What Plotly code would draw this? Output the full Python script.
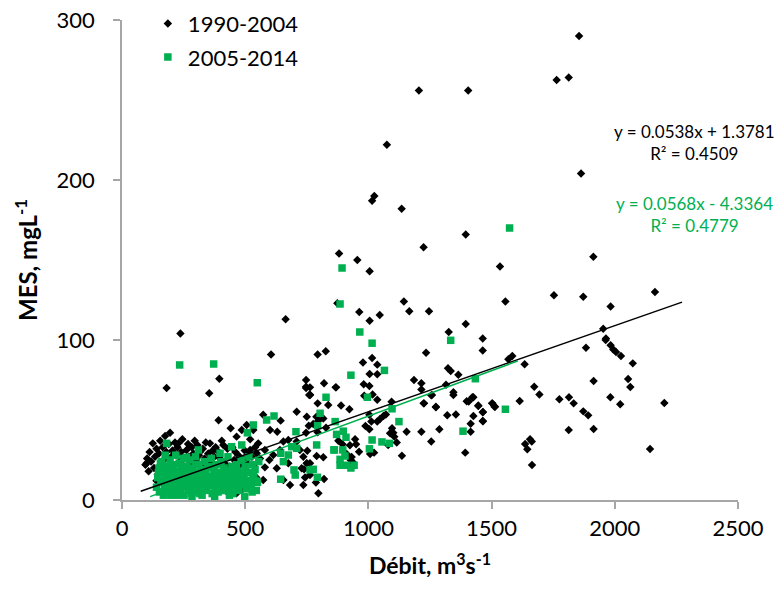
import plotly.graph_objects as go

# ---- data ----
black_x = [1855,1764,1813,1205,1405,1075,1863,1024,1015,1135,1395,1913,1872,2163,1983,1953,1964,
    1224,881,955,1005,1534,1556,1753,874,1144,1166,1246,664,963,1005,1046,1395,1326,1464,1464,1234,794,827,978,1015,1036,1005,1036,747,747,760,820,867,981,1004,983,1017,1036,794,837,889,923,1185,1215,1215,1255,1315,1323,1334,1365,1345,1345,1224,1274,1426,1407,1446,1502,1514,1568,1584,1634,1673,1694,1614,1775,1814,1833,1094,
    1963,1983,1994,2005,2025,2073,1883,2054,2063,1914,1982,2022,2201,1872,1892,1465,1465,1813,1914,1636,1656,1663,1645,1664,2143,
    869,763,763,1226,1274,1320,1355,1258,1399,1422,1446,1503,1512,1464,1464,1415,1426,1415,1393,1255,1215,1288,1155,1136,1115,1105,1101,1088,1096,1080,1071,1061,1004,1012,1036,1047,988,1004,1023,1007,946,950,962,932,928,939,
    797,789,817,758,747,794,776,828,878,895,912,925,790,817,752,750,739,729,763,743,787,820,797,
    181,354,392,573,644,533,601,630,709,750,763,747,237,605,395,
    195,125,229,262,306,317,357,411,441,486,465,506,520,553,520,547,580,598,614,641,655,675,709,722,736,750,628,675,655,682,736,763,580,573,533,509,465,486,422,100,
    95,102,108,112,118,130,134,140,145,150,155,160,165,170,175,180,185,190,200,205,210,215,220,225,235,240,245,250,255,268,272,278,283,290,295,300,312,322,328,335,340,345,350,362,368,375,380,386,392,398,405,416,428,435,448,455,460,472,478,492,498,505,512,527,535,540,560,
    140,200,260,300,350,400,430,470,520,545]
black_y = [290,262.5,264,256,256,222,204,190,187,182,166,152,127,130,121,107,101,
    158,154,150,143,146,124,128,123,124,118,118,113,117.5,112,115.6,110,105,101,93.5,92,91,93,86,88.7,84.6,78.8,78.6,75,70,65.6,73,70.4,72.3,71.2,65.2,66,62.7,60.4,59.4,59,56.7,75,73,69,65.4,72,82.3,80.6,78.3,67.3,65.6,60.4,58.3,64.2,61.5,59,60.4,58.3,88,90,84.8,70.8,66,61.9,63,64.2,60.4,61.4,
    100,96.7,94,92.5,90,85.4,95.2,75.6,70.6,74.4,64.2,59.8,60.6,55.4,52.9,55,49.2,43.8,44.4,35,38,36.5,31.7,21.9,31.9,
    70.4,70.4,65.8,60.4,58,53,53.5,65.6,61.7,64.2,58.8,60.4,58.3,54.8,49.4,47.7,52.5,42.7,29.6,36.5,42.7,44.2,42.7,27.7,36,39.6,42,41.7,44.8,34.4,53.5,52.5,53.3,49,49,50.6,46.3,44.2,29.6,28.8,38,34.8,30.2,26.9,25,23.3,
    49.6,52,51,46.4,42,42.3,47.5,45.2,37,34.8,28.8,34.2,27.5,26.7,30.8,22.9,19.2,19.8,15.6,14,11,13.1,4.2,
    70,66.7,49.8,53.3,49.6,43.8,43.8,42.7,55.2,52,65.6,70.8,104,91,75.8,
    42,35.4,35.4,31.3,34.4,30.2,35.4,34.4,44.8,43.8,39.6,46.9,37.9,35.4,31.3,29.2,31.3,25,28.1,31.3,36.5,37.5,36.5,31.3,27,23,19.8,23,12.5,9.4,9.4,23,20.4,12.5,10.4,10.8,4.2,6.3,5.8,23,
    22,26,18,30,24,20,27,32,16,29,37,22,33,25,40,30,19,35,27,31,22,36,28,33,24,30,38,26,21,35,27,23,33,29,37,25,28,22,32,26,36,20,29,24,31,27,33,22,30,26,37,23,32,21,33,25,30,28,22,26,31,24,29,27,22,33,26,
    12,10,8,14,9,12,7,15,9,14]

green_x = [1573,893,885,965,1015,1334,1065,929,996,828,1434,1556,1384,1055,1085,1096,1124,1004,1015,
    905,885,885,912,929,942,896,871,898,909,862,804,794,865,776,793,790,860,
    549,234,372,617,587,533,706,709,644,675,655,698,703,763,644,689,
    181,310,262,398,445,486,509,
    140,145,150,152,158,162,165,168,172,175,178,182,185,188,192,195,198,202,205,208,212,215,218,222,225,228,232,235,238,242,245,248,252,255,258,262,265,268,272,275,278,282,285,288,292,295,298,302,305,308,312,315,318,322,325,330,334,338,342,346,350,354,358,362,366,370,374,378,382,386,390,394,398,402,406,410,414,418,422,426,430,434,438,442,446,450,455,460,465,470,475,480,485,490,495,500,505,510,515,520,525,530,535,540,545,550,555,
    148,156,166,174,183,190,200,210,220,230,240,250,260,270,280,290,300,310,320,332,340,352,360,372,380,392,400,412,420,432,440,452,462,472,482,492,502,512,522,532,542,170,196,224,252,284,316,344,376,404,436,468,498,528]
green_y = [170,145,122.5,105,98,99.8,81,78,64.2,64.2,75.8,56.7,43,36.3,35.4,57,49,32,37.5,
    27.5,25.4,21.7,21.7,20,21.7,31.3,41,43,39.2,31.3,54.2,46.4,49,19.2,14.2,34.4,31.3,
    73.3,84.4,85,52.5,50,46.9,42.7,32.3,29.2,28.1,24,18.8,15.6,18.8,13,33.3,
    35.4,31.3,26.7,29.2,33.3,34.4,42,
    8,14,20,5,11,24,17,3,9,28,14,21,6,12,18,25,3,9,15,22,6,12,28,18,4,10,23,15,7,20,12,26,3,16,9,21,13,6,18,25,10,4,15,20,8,13,27,5,17,11,22,7,14,19,3,10,24,16,6,12,20,9,15,26,4,13,19,8,22,14,5,11,17,24,8,13,20,6,15,10,27,18,7,12,21,4,16,9,22,13,6,18,25,10,15,21,7,12,27,17,9,22,14,19,6,11,24,
    17,23,12,19,7,16,11,19,8,14,17,10,20,12,16,8,22,14,10,18,7,13,21,9,17,6,14,19,11,8,16,12,19,7,14,10,18,12,8,16,12,5,20,3,10,2,4,9,2,6,3,8,2,5]

# trendline equations (as printed on the chart) and their x ranges
black_slope, black_icpt, black_r2 = 0.0538, 1.3781, 0.4509
green_slope, green_icpt, green_r2 = 0.0568, -4.3364, 0.4779
black_trend_x = [76, 2273]
green_trend_x = [114, 1606]

x_ticks = [0, 500, 1000, 1500, 2000, 2500]
y_ticks = [0, 100, 200, 300]

BLACK = "#000000"
GREEN = "#00B050"
AXIS = "#a6a6a6"
FONT = "Lato"

fig = go.Figure()
fig.add_trace(go.Scatter(x=black_x, y=black_y, mode="markers", name="1990-2004",
                         legendgroup="a",
                         marker=dict(symbol="diamond", size=6.5, color=BLACK, line=dict(width=0))))
fig.add_trace(go.Scatter(x=green_x, y=green_y, mode="markers", name="2005-2014",
                         legendgroup="b",
                         marker=dict(symbol="square", size=7.5, color=GREEN, line=dict(width=0))))
fig.add_trace(go.Scatter(x=black_trend_x, y=[black_slope * v + black_icpt for v in black_trend_x],
                         mode="lines", line=dict(color=BLACK, width=1.5), showlegend=False,
                         hoverinfo="skip"))
fig.add_trace(go.Scatter(x=green_trend_x, y=[green_slope * v + green_icpt for v in green_trend_x],
                         mode="lines", line=dict(color=GREEN, width=1.5), showlegend=False,
                         hoverinfo="skip"))

fig.add_annotation(x=2325, y=223.5, xref="x", yref="y", showarrow=False,
                   text=f"y = {black_slope}x + {black_icpt}<br>R² = {black_r2}",
                   font=dict(family=FONT, size=17, color=BLACK), align="center")
fig.add_annotation(x=2325, y=178.75, xref="x", yref="y", showarrow=False,
                   text=f"y = {green_slope}x - {abs(green_icpt)}<br>R² = {green_r2}",
                   font=dict(family=FONT, size=17, color=GREEN), align="center")

fig.update_layout(
    width=777, height=594,
    margin=dict(l=122, r=39, t=20, b=94, autoexpand=False),
    paper_bgcolor="white", plot_bgcolor="white",
    font=dict(family=FONT, size=22, color="#000000"),
    showlegend=True,
    legend=dict(x=0.042, y=1.036, xanchor="left", yanchor="top",
                font=dict(family=FONT, size=22), bgcolor="rgba(0,0,0,0)",
                tracegroupgap=2, traceorder="grouped"),
    xaxis=dict(range=[0, 2500], tickvals=x_ticks, ticks="outside", ticklen=7,
               tickcolor=AXIS, tickwidth=1.5, showline=True, linecolor=AXIS, linewidth=1.5,
               showgrid=False, zeroline=False, ticklabelstandoff=1,
               tickfont=dict(family=FONT, size=22),
               title=dict(text="<b>Débit, m<sup>3</sup>s<sup>-1</sup></b>", standoff=18,
                          font=dict(family=FONT, size=23)),
               automargin=False),
    yaxis=dict(range=[0, 300], tickvals=y_ticks, ticks="outside", ticklen=7,
               tickcolor=AXIS, tickwidth=1.5, showline=True, linecolor=AXIS, linewidth=1.5,
               showgrid=False, zeroline=False, ticklabelstandoff=14,
               tickfont=dict(family=FONT, size=22),
               title=dict(text="<b>MES, mgL<sup>-1</sup></b>", standoff=12,
                          font=dict(family=FONT, size=24)),
               automargin=False),
)

fig.write_html("out.html")
